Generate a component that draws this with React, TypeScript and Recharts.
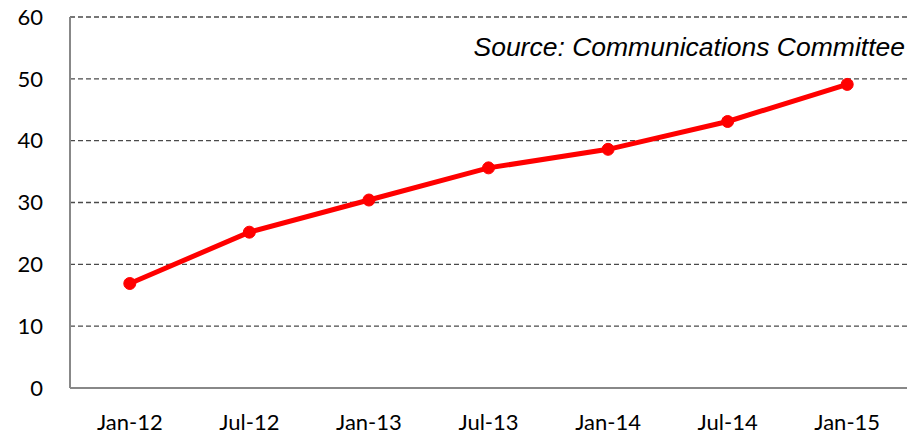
import { LineChart, Line, XAxis, YAxis, CartesianGrid } from "recharts";

const periods = ["Jan-12", "Jul-12", "Jan-13", "Jul-13", "Jan-14", "Jul-14", "Jan-15"];
const values = [16.9, 25.2, 30.4, 35.6, 38.6, 43.1, 49.1];
const yTicks = [0, 10, 20, 30, 40, 50, 60];

const data = periods.map((p, i) => ({ period: p, value: values[i] }));

const tickFont = { fontFamily: "Lato, sans-serif", fontSize: 22, fill: "#000" };

export default function App() {
  return (
    <div style={{ position: "absolute", left: 0, top: 0, width: 920, height: 438, background: "#fff" }}>
      <LineChart width={920} height={438} data={data} margin={{ top: 17, right: 13, left: 10, bottom: 20 }}>
        <CartesianGrid vertical={false} stroke="#4a4a4a" strokeDasharray="5 3" strokeWidth={1.3} />
        <XAxis
          dataKey="period"
          scale="band"
          height={30}
          tick={tickFont}
          tickLine={false}
          tickSize={0}
          tickMargin={26}
          axisLine={{ stroke: "#888", strokeWidth: 2 }}
        />
        <YAxis
          width={60}
          domain={[0, 60]}
          ticks={yTicks}
          tick={tickFont}
          tickLine={false}
          tickSize={0}
          tickMargin={27}
          axisLine={{ stroke: "#888", strokeWidth: 2 }}
        />
        <Line
          type="linear"
          dataKey="value"
          stroke="#ff0000"
          strokeWidth={5}
          dot={{ r: 6, fill: "#ff0000", stroke: "#ff0000", strokeWidth: 1 }}
          isAnimationActive={false}
        />
      </LineChart>
      <div
        style={{
          position: "absolute",
          right: 15,
          top: 32,
          fontFamily: "'Liberation Sans', Arial, sans-serif",
          fontStyle: "italic",
          fontSize: 26.5,
          lineHeight: "30px",
          color: "#000",
          whiteSpace: "nowrap",
        }}
      >
        Source: Communications Committee
      </div>
    </div>
  );
}
